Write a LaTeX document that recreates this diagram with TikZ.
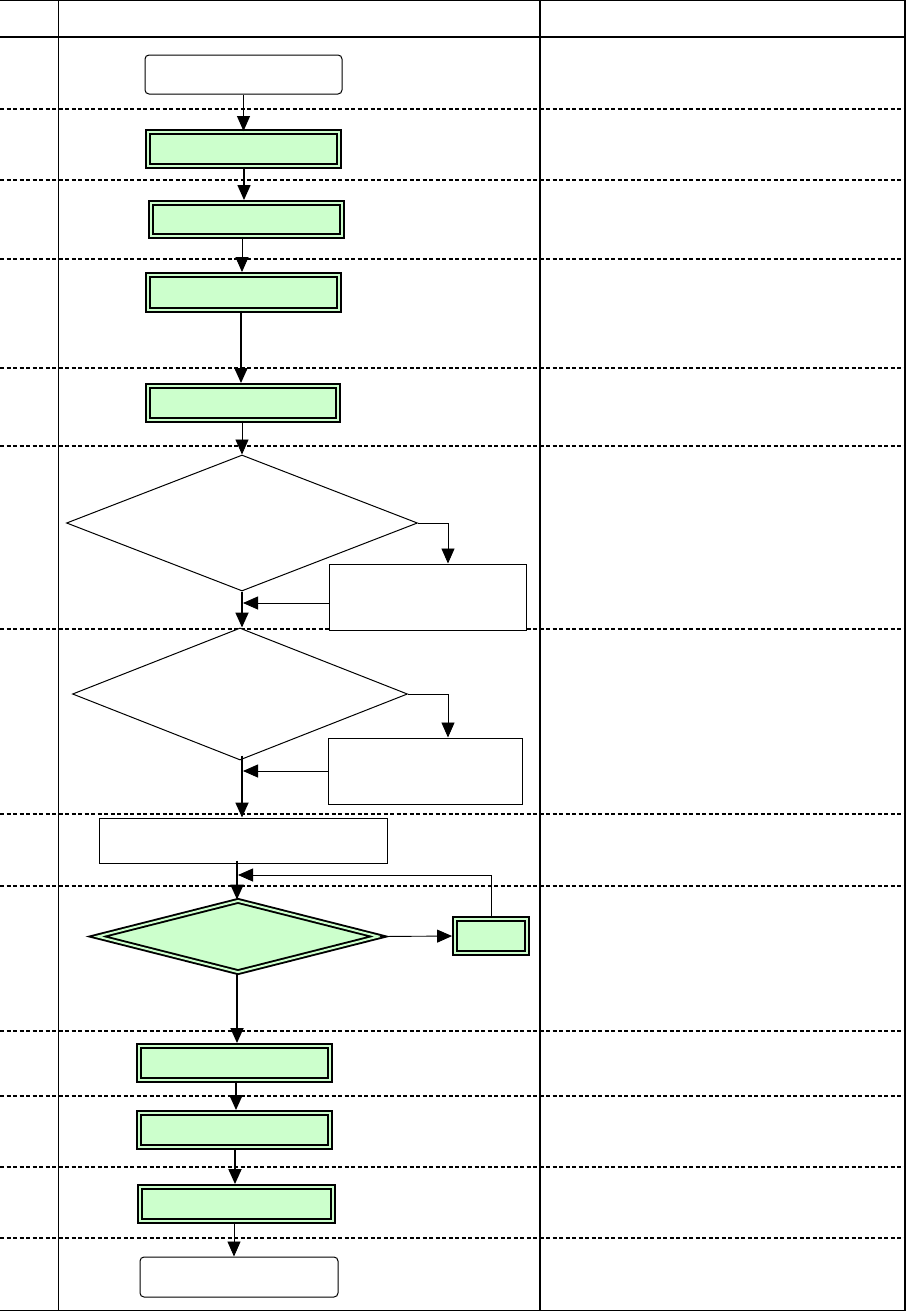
\documentclass[tikz,border=0pt]{standalone}
\usetikzlibrary{arrows.meta,shapes.geometric}
\definecolor{lg}{HTML}{CCFFCC}
\begin{document}
\begin{tikzpicture}[x=1pt,y=-1pt,
  rowsep/.style={line width=1.6pt, dash pattern=on 4pt off 2.5pt},
  frameline/.style={line width=1.1pt},
  arr/.style={-{Triangle[length=15pt,width=13pt]}, line width=0.9pt},
  tarr/.style={-{Triangle[length=15pt,width=13pt]}, line width=1.8pt},
  termbox/.style={draw, line width=1pt, rounded corners=4pt, fill=white, inner sep=0pt},
  procbox/.style={draw, line width=1.9pt, double=lg, double distance=2pt, fill=lg, inner sep=0pt,
                  minimum width=191pt, minimum height=34pt},
  plainbox/.style={draw, line width=1pt, fill=white, inner sep=0pt},
  decis/.style={draw, diamond, line width=1pt, fill=white, inner sep=0pt},
  gdecis/.style={draw, diamond, line width=1.9pt, double=lg, double distance=2pt, fill=lg, inner sep=0pt}
]
\useasboundingbox (0,0) rectangle (906,1312);

% table frame
\draw[frameline] (0,0.5) -- (905,0.5);
\draw[frameline] (905,0) -- (905,1310.5);
\draw[frameline] (0,1310.5) -- (905,1310.5);
\draw[frameline] (0,37) -- (905,37);
\draw[frameline] (58.5,0) -- (58.5,1310.5);
\draw[frameline] (540,0) -- (540,1310.5);
\foreach \yy in {109,180,259,368,446,629,814,886,1031,1096,1167,1238}
  \draw[rowsep] (0,\yy) -- (905,\yy);

% nodes
\node[termbox, minimum width=197pt, minimum height=39pt] (n1) at (243.5,74.5) {};
\node[procbox] (n2) at (243.5,149) {};
\node[procbox, minimum height=33pt] (n3) at (246.5,219.5) {};
\node[procbox, minimum height=35pt] (n4) at (243.5,292.5) {};
\node[procbox, minimum width=190pt] (n5) at (243,403) {};
\node[decis, minimum width=351pt, minimum height=136pt] (d1) at (242,523) {};
\node[plainbox, minimum width=197pt, minimum height=66pt] (b1) at (427.5,597) {};
\node[decis, minimum width=335pt, minimum height=132pt] (d2) at (240,694) {};
\node[plainbox, minimum width=194pt, minimum height=66pt] (b2) at (425,771) {};
\node[plainbox, minimum width=288pt, minimum height=45pt] (r8) at (243,840.5) {};
\node[gdecis, minimum width=282pt, minimum height=72pt] (d3) at (238,936.5) {};
\node[procbox, minimum width=72pt] (sb) at (491,936) {};
\node[procbox] (n10) at (234.5,1063) {};
\node[procbox] (n11) at (234.5,1130) {};
\node[procbox, minimum width=193pt] (n12) at (236.5,1204) {};
\node[termbox, minimum width=198pt, minimum height=40pt] (n13) at (239,1277) {};

% junction points and connector columns
\coordinate (j1) at (243,603);
\coordinate (j2) at (243,771);
\coordinate (j3) at (238,875);
\coordinate (xa) at (244,0);
\coordinate (xb) at (242,0);
\coordinate (xc) at (241,0);
\coordinate (xd) at (237,0);
\coordinate (xe) at (236,0);
\coordinate (xf) at (235,0);
\coordinate (xg) at (234,0);

% connectors
\draw[arr] (n1.south) -- (n1.south |- n2.north);
\draw[arr, line width=1.4pt, shorten >=2pt] (xa |- n2.south) -- (xa |- n3.north);
\draw[arr, shorten >=2pt] (xb |- n3.south) -- (xb |- n4.north);
\draw[tarr, shorten >=2pt] (xc |- n4.south) -- (xc |- n5.north);
\draw[arr] (xb |- n5.south) -- (d1.north);
\draw[tarr] (d1.south) -- (d1.south |- d2.north);
\draw[arr] (d1.east) -| ([xshift=20.5pt]b1.north);
\draw[arr] (b1.west |- j1) -- (j1);
\draw[arr] (d2.east) -| ([xshift=23pt]b2.north);
\draw[arr] (b2.west |- j2) -- (j2);
\draw[tarr] ([yshift=5pt]xb |- d2.south) -- (xb |- r8.north);
\draw[tarr] ([yshift=3pt]xd |- r8.south) -- (xd |- d3.north);
\draw[arr] (sb.north) |- (j3);
\draw[arr, shorten >=2pt] (d3.east) -- (sb.west);
\draw[tarr, shorten >=2pt] (xd |- d3.south) -- (xd |- n10.north);
\draw[tarr, shorten >=2pt] (xe |- n10.south) -- (xe |- n11.north);
\draw[tarr, shorten >=2pt] (xf |- n11.south) -- (xf |- n12.north);
\draw[arr] (xg |- n12.south) -- (xg |- n13.north);
\end{tikzpicture}
\end{document}
